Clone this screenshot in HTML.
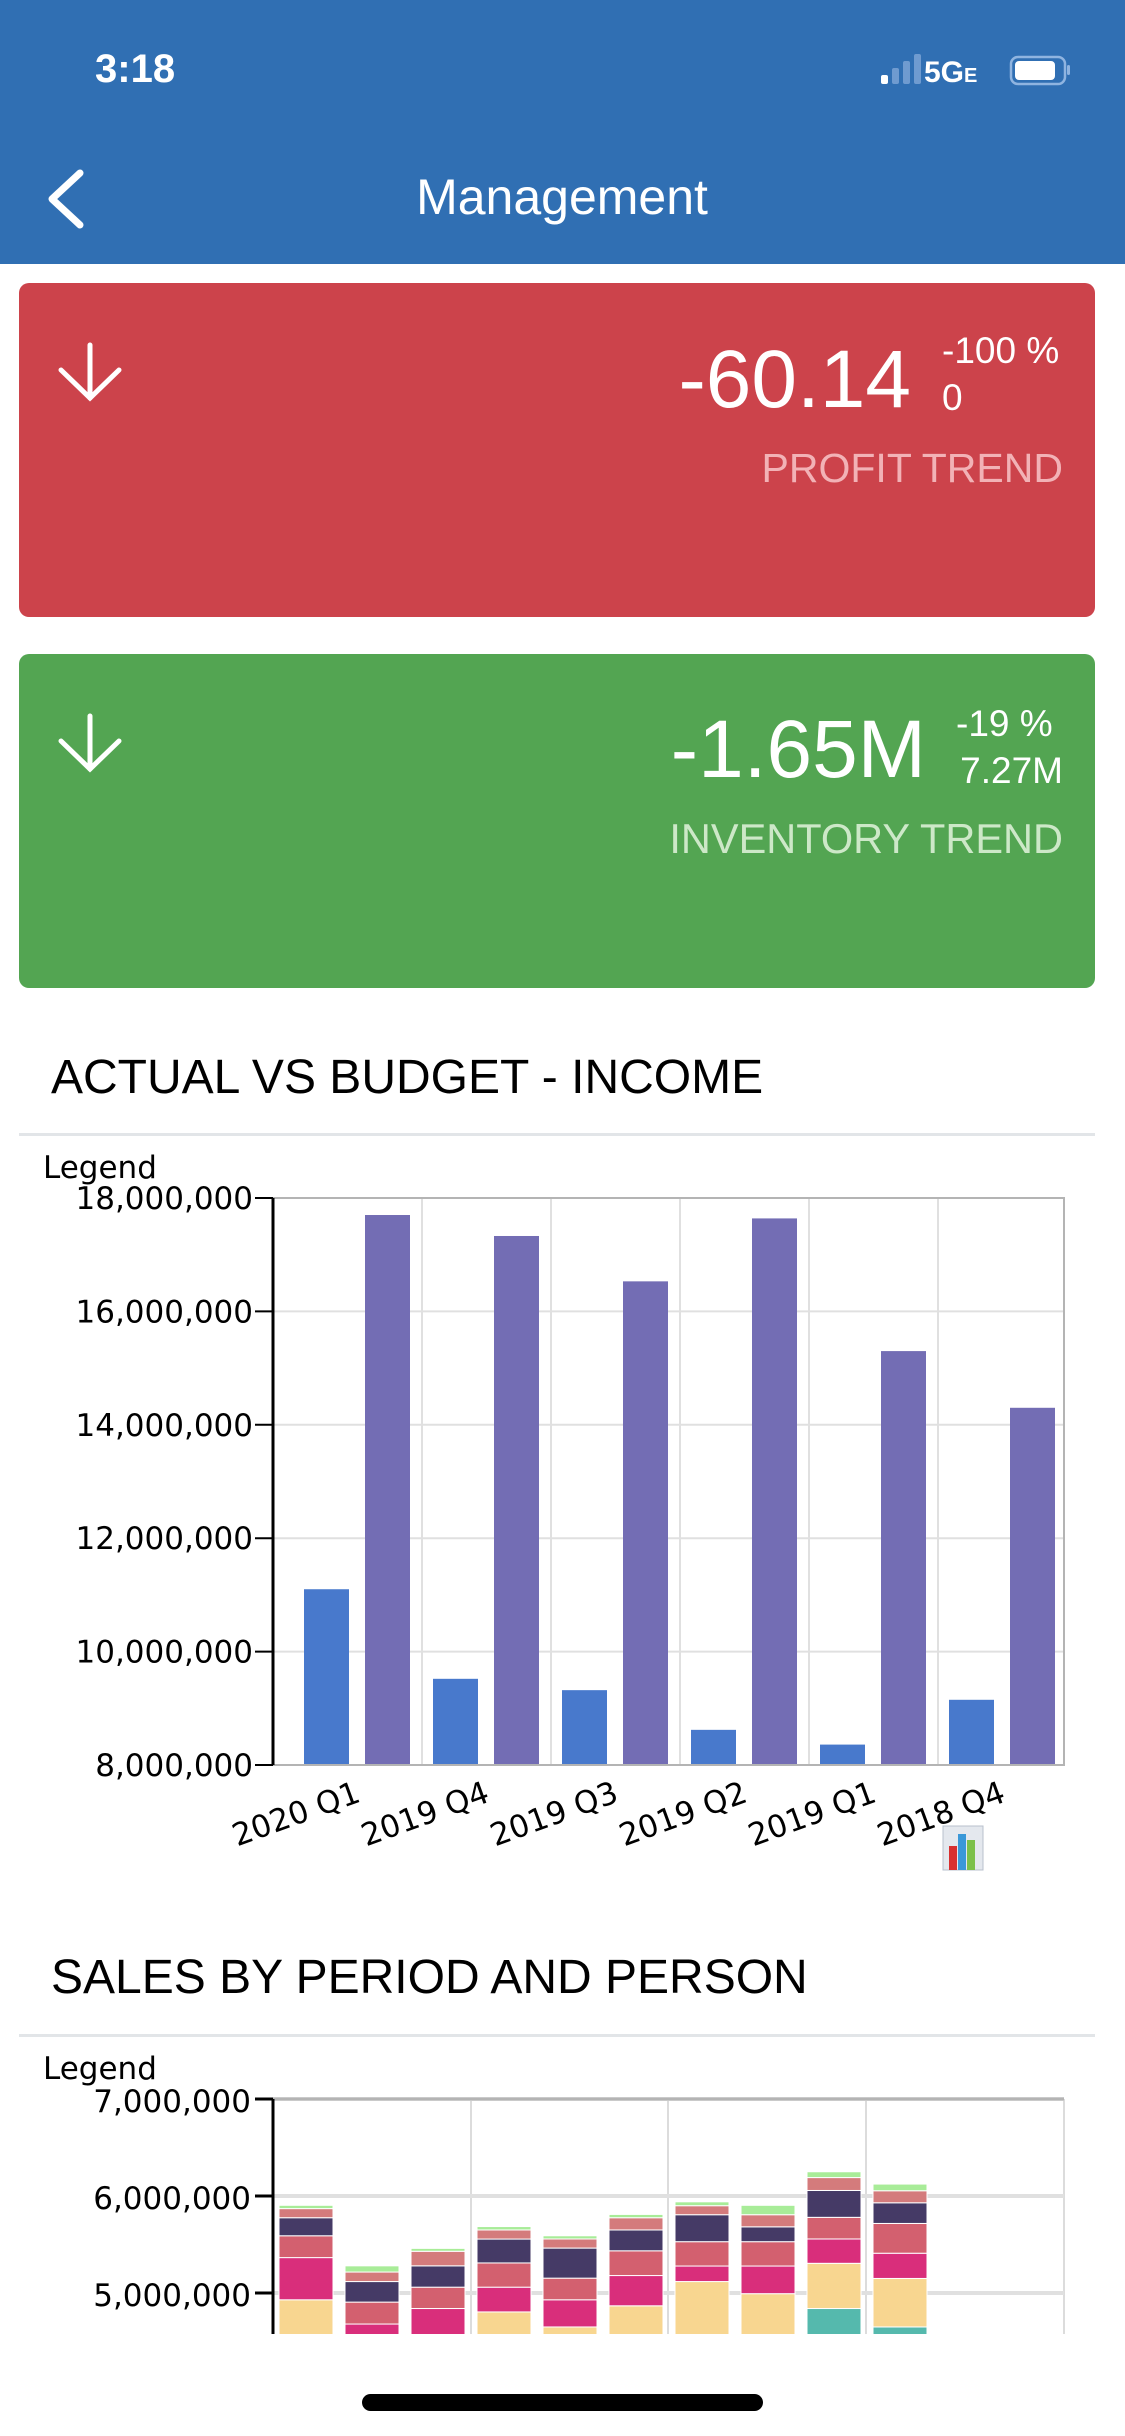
<!DOCTYPE html>
<html><head><meta charset="utf-8">
<style>
html,body{margin:0;padding:0;background:#fff;width:1125px;height:2436px;overflow:hidden}
svg{display:block}
text{font-family:"Liberation Sans",sans-serif}
.ax{font-family:"DejaVu Sans","Liberation Sans",sans-serif;font-size:31px;fill:#000}
</style></head>
<body>
<svg id="page" width="1125" height="2436" viewBox="0 0 1125 2436">
  <rect x="0" y="0" width="1125" height="264" fill="#306fb3"/>
  <text x="95" y="82" font-size="40" font-weight="bold" fill="#fff">3:18</text>
  <g>
    <rect x="881" y="75" width="7" height="9" rx="2" fill="#fff"/>
    <rect x="892" y="68" width="7" height="16" rx="2" fill="#6f9bd0"/>
    <rect x="903" y="61" width="7" height="23" rx="2" fill="#6f9bd0"/>
    <rect x="914" y="54" width="7" height="30" rx="2" fill="#6f9bd0"/>
  </g>
  <text x="924" y="82" font-size="30" font-weight="bold" fill="#fff">5G<tspan font-size="20">E</tspan></text>
  <g>
    <rect x="1011" y="57" width="54" height="27" rx="7" fill="none" stroke="#8fb4e0" stroke-width="2.5"/>
    <rect x="1015" y="61" width="40" height="19" rx="4" fill="#fff"/>
    <rect x="1067" y="65" width="3" height="10" rx="1.5" fill="#8fb4e0"/>
  </g>
  <polyline points="80,173 52,199 80,225" fill="none" stroke="#fff" stroke-width="7" stroke-linecap="round" stroke-linejoin="round"/>
  <text x="562" y="214" font-size="50" fill="#fff" text-anchor="middle">Management</text>

  <g>
    <rect x="19" y="283" width="1076" height="334" rx="10" fill="#cc434b"/>
    <g stroke="#fff" stroke-width="5" fill="none" stroke-linecap="round">
      <line x1="90" y1="345" x2="90" y2="398"/><polyline points="61,370 90,398 119,370"/>
    </g>
    <text x="911" y="407" font-size="82" fill="#fff" text-anchor="end">-60.14</text>
    <text x="942" y="363" font-size="37" fill="#fff">-100 %</text>
    <text x="942" y="410" font-size="37" fill="#fff">0</text>
    <text x="1063" y="482" font-size="41" fill="#f2b2b6" text-anchor="end">PROFIT TREND</text>
  </g>

  <g>
    <rect x="19" y="654" width="1076" height="334" rx="10" fill="#53a552"/>
    <g stroke="#fff" stroke-width="5" fill="none" stroke-linecap="round">
      <line x1="90" y1="716" x2="90" y2="769"/><polyline points="61,741 90,769 119,741"/>
    </g>
    <text x="926" y="777" font-size="82" fill="#fff" text-anchor="end">-1.65M</text>
    <text x="956" y="736" font-size="37" fill="#fff">-19 %</text>
    <text x="1063" y="783" font-size="37" fill="#fff" text-anchor="end">7.27M</text>
    <text x="1063" y="853" font-size="41.5" fill="#cde8c8" text-anchor="end">INVENTORY TREND</text>
  </g>

  <text x="51" y="1093" font-size="48" fill="#000">ACTUAL VS BUDGET - INCOME</text>
  <rect x="19" y="1133" width="1076" height="3" fill="#e2e5e8"/>
  <text x="43" y="1178" class="ax" font-size="34">Legend</text>
  <g id="chart1"></g>

  <text x="51" y="1993" font-size="48" fill="#000">SALES BY PERIOD AND PERSON</text>
  <rect x="19" y="2034" width="1076" height="3" fill="#e2e5e8"/>
  <text x="43" y="2079" class="ax" font-size="34">Legend</text>
  <g id="chart2"></g>

  <rect x="362" y="2394" width="401" height="17" rx="8.5" fill="#000"/>
</svg>
<script>
const NS='http://www.w3.org/2000/svg';
// ---- Chart 1 data ----
const incomeCategories=['2020 Q1','2019 Q4','2019 Q3','2019 Q2','2019 Q1','2018 Q4'];
const incomeActual=[11100000,9520000,9320000,8620000,8360000,9150000];
const incomeBudget=[17700000,17330000,16530000,17640000,15300000,14300000];
const incomeTicks=[8000000,10000000,12000000,14000000,16000000,18000000];
// ---- Chart 2 data ----
const salesTicks=[5000000,6000000,7000000];
const salesPeriods=['P1','P2','P3','P4','P5','P6','P7','P8','P9','P10'];
const salesBase=4000000;
const salesTeal=[300000,300000,300000,300000,300000,300000,300000,300000,840000,650000];
const salesYellow=[630000,100000,255000,505000,350000,568000,818000,693000,466000,500000];
const salesMagenta=[435000,280000,285000,255000,280000,312000,160000,285000,251000,260000];
const salesRed=[225000,226000,220000,250000,223000,255000,251000,251000,223000,307000];
const salesNavy=[186000,212000,220000,246000,310000,215000,278000,153000,277000,213000];
const salesSalmon=[94000,98000,150000,94000,94000,126000,93000,125000,133000,124000];
const salesGreen=[34000,64000,30000,35000,33000,34000,40000,97000,60000,69000];

function mk(tag,attrs,parent){const e=document.createElementNS(NS,tag);for(const k in attrs)e.setAttribute(k,attrs[k]);parent.appendChild(e);return e;}
function fmt(v){return v.toLocaleString('en-US');}

// Chart 1
(function(){
  const g=document.getElementById('chart1');
  const L=273,R=1064,T=1198,B=1765,min=8000000,max=18000000;
  const y=v=>B-(v-min)/(max-min)*(B-T);
  const step=129, bw=45;
  const x=i=>L+31+i*step;
  incomeTicks.forEach(t=>{
    const ln=mk('line',{x1:L,x2:R,y1:y(t),y2:y(t),stroke:'#e0e0e0','stroke-width':2},g);
    
    
    const tk=mk('line',{x1:L-18,x2:L,y1:y(t),y2:y(t),stroke:'#000','stroke-width':2},g);
    
    
    const tx=mk('text',{x:L-20,y:y(t)+11,'text-anchor':'end',class:'ax'},g);
    tx.textContent=fmt(t);
    
    
  });
  for(let i=1;i<incomeCategories.length;i++){
    const vx=L+149+(i-1)*step;
    const vl=mk('line',{x1:vx,x2:vx,y1:T,y2:B,stroke:'#e0e0e0','stroke-width':2},g);
    
    
  }
  incomeCategories.forEach((c,i)=>{
    const b1=mk('rect',{x:x(i),y:y(incomeActual[i]),width:bw,height:B-y(incomeActual[i]),fill:'#4879cc'},g);
    
    
    const b2=mk('rect',{x:x(i)+61,y:y(incomeBudget[i]),width:bw,height:B-y(incomeBudget[i]),fill:'#736db4'},g);
    
    
    const cx=x(i)+58, cy=B+36;
    const lb=mk('text',{x:cx,y:cy,'text-anchor':'end',class:'ax','font-size':'32',transform:'rotate(-20 '+cx+' '+cy+')'},g);
    lb.textContent=c;
    
    
  });
  const bd=mk('polyline',{points:L+','+T+' '+R+','+T+' '+R+','+B+' '+L+','+B,fill:'none',stroke:'#b4b4b4','stroke-width':2},g);
  
  
  const ax=mk('line',{x1:L,x2:L,y1:T,y2:B,stroke:'#000','stroke-width':3},g);
  
  
  const ic=mk('g',{},g);
  
  
  mk('rect',{x:943,y:1826,width:40,height:44,fill:'#e4e8ee',stroke:'#b8c0cc'},ic);
  mk('rect',{x:949,y:1846,width:8,height:24,fill:'#d83030'},ic);
  mk('rect',{x:958,y:1834,width:8,height:36,fill:'#3a98d8'},ic);
  mk('rect',{x:967,y:1840,width:8,height:30,fill:'#7cc04a'},ic);
})();

// Chart 2
(function(){
  const g=document.getElementById('chart2');
  const L=273,R=1064,T=2099,B=2334,perM=97;
  const y=v=>T+(7000000-v)/1000000*perM;
  const clip=mk('clipPath',{id:'c2clip'},g);
  mk('rect',{x:L,y:T,width:R-L,height:B-T},clip);
  [471,668,866,1064].forEach(vx=>{
    const vl=mk('line',{x1:vx,x2:vx,y1:T,y2:B,stroke:'#dcdcdc','stroke-width':2},g);
    
    
  });
  salesTicks.forEach(t=>{
    const ln=mk('line',{x1:L,x2:R,y1:y(t),y2:y(t),stroke:'#e0e0e0','stroke-width':4},g);
    
    
    const tk=mk('line',{x1:L-18,x2:L,y1:y(t),y2:y(t),stroke:'#000','stroke-width':3},g);
    
    
    const tx=mk('text',{x:L-22,y:y(t)+13,'text-anchor':'end',class:'ax','font-size':'34'},g);
    tx.textContent=fmt(t);
    
    
  });
  const top=mk('line',{x1:L,x2:R,y1:T,y2:T,stroke:'#b4b4b4','stroke-width':3},g);
  
  
  const layers=[[salesTeal,'#55b9ad'],[salesYellow,'#f8d690'],[salesMagenta,'#d92e7b'],[salesRed,'#d3606f'],[salesNavy,'#453a66'],[salesSalmon,'#d47b7c'],[salesGreen,'#a8ec98']];
  const bars=mk('g',{'clip-path':'url(#c2clip)'},g);
  salesPeriods.forEach((p,i)=>{
    let cum=salesBase;
    const bx=L+6+i*66;
    layers.forEach(([arr,col],k)=>{
      const v0=cum, v1=cum+arr[i]; cum=v1;
      const r=mk('rect',{x:bx,y:y(v1),width:54,height:y(v0)-y(v1),fill:col,stroke:'#fff','stroke-width':1},bars);
      
      
    });
  });
  const ax=mk('line',{x1:L,x2:L,y1:T,y2:B,stroke:'#000','stroke-width':3},g);
  
  
})();
</script>
</body></html>
